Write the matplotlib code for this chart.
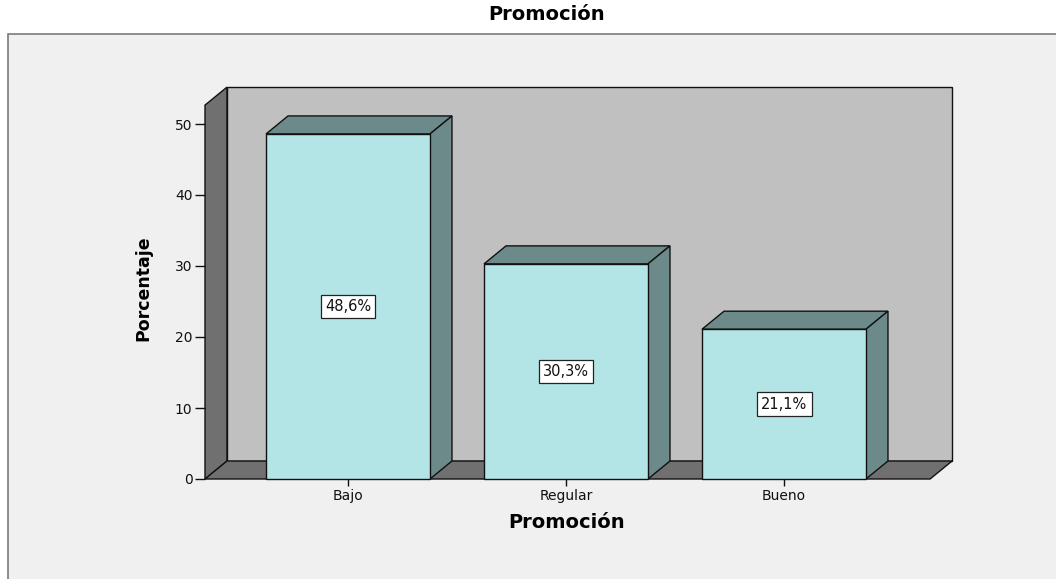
import matplotlib
matplotlib.use("Agg")
import matplotlib.pyplot as plt
from matplotlib.patches import Polygon, Rectangle

categories = ["Bajo", "Regular", "Bueno"]
percentages = [48.6, 30.3, 21.1]
value_labels = ["48,6%", "30,3%", "21,1%"]
y_ticks = [0, 10, 20, 30, 40, 50]

plt.rcParams["font.family"] = ["DejaVu Sans"]

W, H, DPI = 1056, 579, 100
fig = plt.figure(figsize=(W / DPI, H / DPI), dpi=DPI)
fig.patch.set_facecolor("white")

# outer chart frame (kept behind the axes)
fig.patches.append(Rectangle((8 / W, -0.01), 1.2, 1 - 34 / H + 0.01,
                             transform=fig.transFigure, facecolor="#f0f0f0",
                             edgecolor="#7a7a7a", linewidth=1.2, zorder=-5))

# axes placed so that the front floor edge / front wall edge form the axes
px_unit = 218.0          # pixels per category step
py_unit = 7.1            # pixels per percent
x_left = -0.656
ax_left_px, ax_bottom_px, ax_top_px, ax_right_px = 205, 479, 78, 965
ax_w_px = ax_right_px - ax_left_px
ax_h_px = ax_bottom_px - ax_top_px
ax = fig.add_axes([ax_left_px / W, 1 - ax_bottom_px / H, ax_w_px / W, ax_h_px / H])
ax.set_zorder(1)
ax.set_xlim(x_left, x_left + ax_w_px / px_unit)
ax.set_ylim(0, ax_h_px / py_unit)
ax.patch.set_visible(False)
for s in ax.spines.values():
    s.set_visible(False)

dx = 22 / px_unit
dy = 18 / py_unit
x_right = 2.670
wall_top = 52.66
edge = "#111111"
lw = 1.0
wall_grey = "#707070"

# left wall
ax.add_patch(Polygon([(x_left, 0), (x_left + dx, dy), (x_left + dx, wall_top + dy),
                      (x_left, wall_top)], closed=True, facecolor=wall_grey,
                     edgecolor=edge, linewidth=lw, zorder=1, clip_on=False))
# back wall
ax.add_patch(Polygon([(x_left + dx, dy), (x_right + dx, dy), (x_right + dx, wall_top + dy),
                      (x_left + dx, wall_top + dy)], closed=True, facecolor="#c0c0c0",
                     edgecolor=edge, linewidth=lw, zorder=1, clip_on=False))
# floor
ax.add_patch(Polygon([(x_left, 0), (x_right, 0), (x_right + dx, dy), (x_left + dx, dy)],
                     closed=True, facecolor=wall_grey, edgecolor=edge,
                     linewidth=lw, zorder=1, clip_on=False))

bar_w = 0.752
front = "#b3e5e6"
shade = "#6c8a8a"
for i, (v, lab) in enumerate(zip(percentages, value_labels)):
    x0, x1 = i - bar_w / 2, i + bar_w / 2
    ax.add_patch(Polygon([(x0, v), (x1, v), (x1 + dx, v + dy), (x0 + dx, v + dy)],
                         closed=True, facecolor=shade, edgecolor=edge,
                         linewidth=lw, zorder=3, clip_on=False))
    ax.add_patch(Polygon([(x1, 0), (x1 + dx, dy), (x1 + dx, v + dy), (x1, v)],
                         closed=True, facecolor=shade, edgecolor=edge,
                         linewidth=lw, zorder=3, clip_on=False))
    ax.add_patch(Rectangle((x0, 0), bar_w, v, facecolor=front, edgecolor=edge,
                           linewidth=lw, zorder=4, clip_on=False))
    ax.text(i, v / 2, lab, ha="center", va="center", fontsize=10.5, zorder=5,
            color="#111111",
            bbox=dict(boxstyle="square,pad=0.3", facecolor="white",
                      edgecolor="#222222", linewidth=0.9))

ax.set_yticks(y_ticks)
ax.set_yticklabels([str(t) for t in y_ticks])
ax.set_xticks(range(len(categories)))
ax.set_xticklabels(categories)
ax.tick_params(axis="y", direction="out", length=7, width=1, pad=2,
               labelsize=10, colors="#111111")
ax.tick_params(axis="x", direction="out", length=5, width=1, pad=2,
               labelsize=10, colors="#111111")

ax.set_ylabel("Porcentaje", fontsize=12.5, fontweight="bold", va="center")
ax.yaxis.set_label_coords((143 - ax_left_px) / ax_w_px, (ax_bottom_px - 288) / ax_h_px)
ax.set_xlabel("Promoción", fontsize=14, fontweight="bold", va="center")
ax.xaxis.set_label_coords((567 - ax_left_px) / ax_w_px, (ax_bottom_px - 522) / ax_h_px)
fig.text(547 / W, 1 - 15 / H, "Promoción", ha="center", va="center",
         fontsize=14, fontweight="bold")

fig.savefig("out.png", dpi=DPI)
